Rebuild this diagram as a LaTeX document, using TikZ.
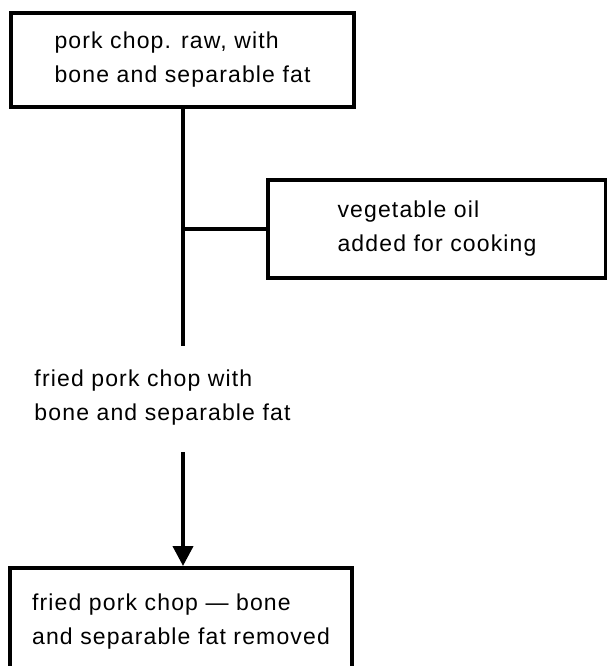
\documentclass[tikz,border=0pt]{standalone}
\usepackage{fontspec}
\setmainfont{Liberation Sans}[LetterSpace=5.0]
\usepackage{tikz}
\usetikzlibrary{arrows.meta,positioning}

\begin{document}
\begin{tikzpicture}[x=1pt, y=-1pt,
  stagebox/.style={rectangle, draw, line width=4pt, align=left, inner sep=0pt, font=\fontsize{23}{34}\selectfont},
  plain/.style={align=left, inner sep=0pt, font=\fontsize{23}{34}\selectfont},
  link/.style={line width=4pt},
  arrow/.style={-{Triangle[length=20pt, width=20pt]}, line width=4pt}
]
\useasboundingbox (0,0) rectangle (607,666);
\node[stagebox, minimum width=343pt, minimum height=94pt] (raw) at (182.5,60) {pork chop. raw, with\\bone and separable fat};
\node[stagebox, minimum width=338pt, minimum height=98pt] (oil) at (437,228.5) {vegetable oil\\added for cooking};
\node[plain] (fried) at (162.5,398) {fried pork chop with\\bone and separable fat};
\node[stagebox, minimum width=342pt, minimum height=108pt] (trimmed) at (181,622) {fried pork chop --- bone\\and separable fat removed};
\coordinate (stemend) at (183,346);
\coordinate (arrowstart) at (183,452);
\draw[link] (raw.south -| stemend) -- (stemend);
\draw[link] (oil.west) -- (oil.west -| stemend);
\draw[arrow] (arrowstart) -- (trimmed.north -| arrowstart);
\end{tikzpicture}
\end{document}
